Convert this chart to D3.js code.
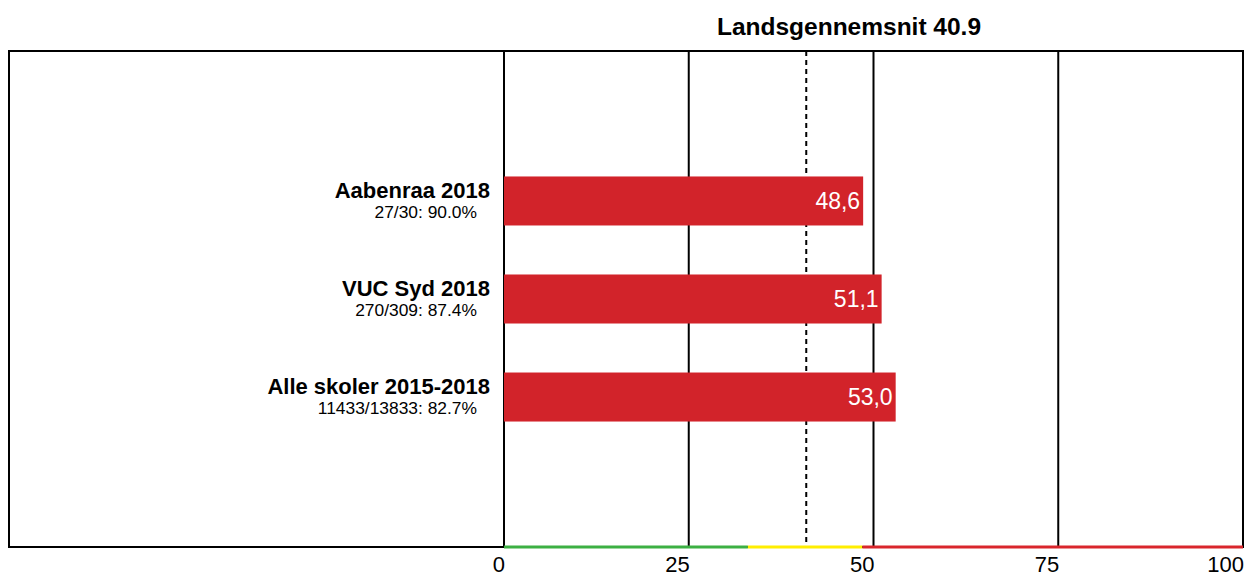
<!DOCTYPE html>
<html>
<head>
<meta charset="utf-8">
<script src="https://cdn.jsdelivr.net/npm/d3@7"></script>
<style>
  html, body { margin: 0; padding: 0; background: #fff; }
  svg { display: block; font-family: "Liberation Sans", Arial, sans-serif; }
</style>
</head>
<body>
<svg id="chart" width="1256" height="576"></svg>
<script>
const categories = ["Aabenraa 2018", "VUC Syd 2018", "Alle skoler 2015-2018"];
const subLabels = ["27/30: 90.0%", "270/309: 87.4%", "11433/13833: 82.7%"];
const values = [48.6, 51.1, 53.0];
const valueLabels = ["48,6", "51,1", "53,0"];
const tickValues = [0, 25, 50, 75, 100];
const average = 40.9;
const titleText = "Landsgennemsnit 40.9";
const colorBands = [
  { from: 0, to: 33, color: "#3cb043" },
  { from: 33, to: 48.5, color: "#ffee00" },
  { from: 48.5, to: 100, color: "#d9262c" }
];

const svg = d3.select("#chart");
const frame = { left: 9, right: 1243, top: 51, bottom: 547 };
const x0 = 504;

const x = d3.scaleLinear().domain([0, 100]).range([x0, frame.right]);
const y = d3.scaleBand().domain(categories)
  .range([frame.top, frame.bottom])
  .paddingInner(0.5).paddingOuter(1.28);

svg.append("rect")
  .attr("x", frame.left).attr("y", frame.top)
  .attr("width", frame.right - frame.left).attr("height", frame.bottom - frame.top)
  .attr("fill", "none").attr("stroke", "#000").attr("stroke-width", 2);

svg.append("g").selectAll("line").data(tickValues).join("line")
  .attr("x1", d => x(d)).attr("x2", d => x(d))
  .attr("y1", frame.top).attr("y2", frame.bottom)
  .attr("stroke", "#000").attr("stroke-width", 2);

svg.append("line")
  .attr("x1", x(average)).attr("x2", x(average))
  .attr("y1", frame.top).attr("y2", frame.bottom)
  .attr("stroke", "#000").attr("stroke-width", 2)
  .attr("stroke-dasharray", "5,4");

svg.append("g").selectAll("rect").data(values).join("rect")
  .attr("x", x(0))
  .attr("y", (d, i) => y(categories[i]))
  .attr("width", d => x(d) - x(0))
  .attr("height", y.bandwidth())
  .attr("fill", "#d2232a");

svg.append("g").selectAll("text").data(values).join("text")
  .attr("x", d => x(d) - 3)
  .attr("y", (d, i) => y(categories[i]) + y.bandwidth() / 2 + 8)
  .attr("text-anchor", "end")
  .attr("fill", "#fff")
  .attr("font-size", 23)
  .text((d, i) => valueLabels[i]);

const catG = svg.append("g");
catG.selectAll("text.cat").data(categories).join("text")
  .attr("class", "cat")
  .attr("x", 490)
  .attr("y", d => y(d) + y.bandwidth() / 2 - 3)
  .attr("text-anchor", "end")
  .attr("font-size", 22).attr("font-weight", "bold")
  .attr("fill", "#000")
  .text(d => d);
catG.selectAll("text.sub").data(categories).join("text")
  .attr("class", "sub")
  .attr("x", 477)
  .attr("y", d => y(d) + y.bandwidth() / 2 + 17)
  .attr("text-anchor", "end")
  .attr("font-size", 17.4)
  .attr("fill", "#000")
  .text((d, i) => subLabels[i]);

svg.append("g").selectAll("line").data(colorBands).join("line")
  .attr("x1", d => x(d.from)).attr("x2", d => x(d.to))
  .attr("y1", frame.bottom).attr("y2", frame.bottom)
  .attr("stroke", d => d.color).attr("stroke-width", 3);

svg.append("g").selectAll("text").data(tickValues).join("text")
  .attr("x", d => x(d) + 1)
  .attr("y", 572)
  .attr("text-anchor", "end")
  .attr("font-size", 22)
  .attr("fill", "#000")
  .text(d => d);

svg.append("text")
  .attr("x", 849).attr("y", 35)
  .attr("text-anchor", "middle")
  .attr("font-size", 24.5).attr("font-weight", "bold")
  .attr("fill", "#000")
  .text(titleText);
</script>
</body>
</html>
